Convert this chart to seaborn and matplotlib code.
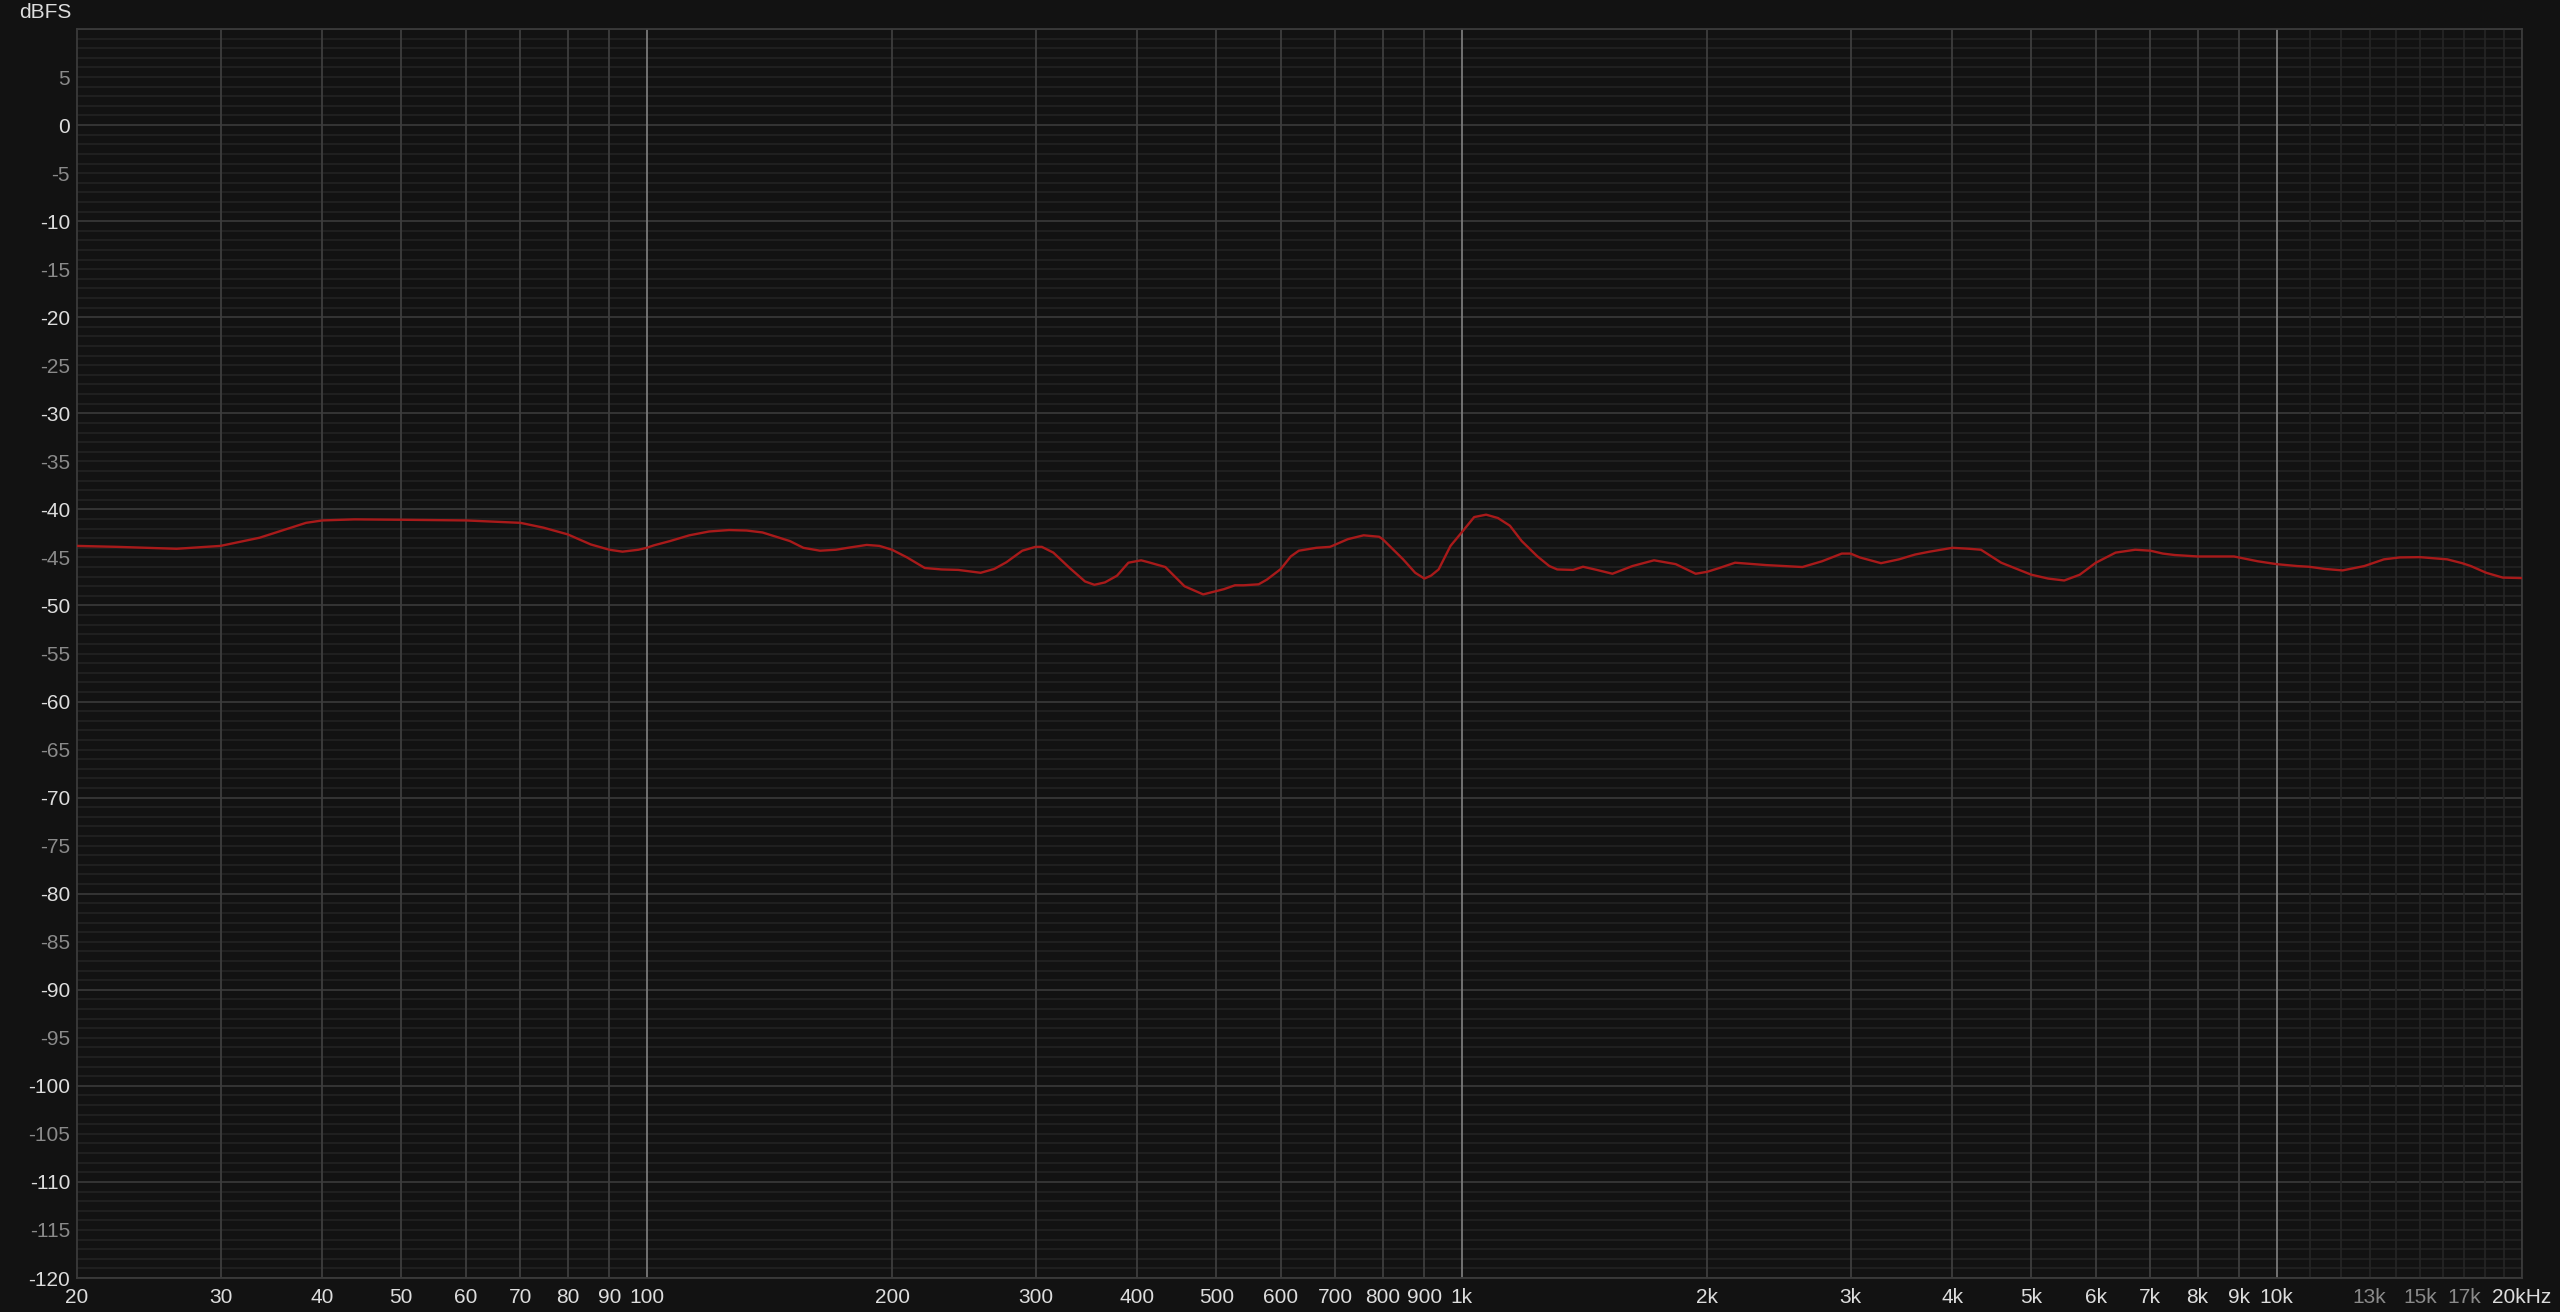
import numpy as np
import pandas as pd
import seaborn as sns
import matplotlib.pyplot as plt

# curve (frequency in Hz, level in dBFS)
freq = [20, 22.4, 26.5, 30, 33.5, 36.6, 38.2, 40, 43.8, 50, 60, 70, 74.7, 80, 85.4, 90,
        93.4, 97.7, 100, 102, 106.8, 112.8, 119.3, 126.2, 132.6, 138.7, 149.9, 155.7,
        163.2, 170.7, 176.5, 186.2, 193, 200, 208.7, 219.4, 230, 241.2, 256.9, 267,
        276.3, 289, 300, 305.4, 315.5, 330.4, 345, 354.3, 365, 377.7, 390, 404.3, 412.7,
        432.9, 457, 481.8, 500, 511, 527, 540, 563.5, 577, 600, 617, 631.3, 663, 689.5,
        725, 758, 792, 800, 847.6, 877, 900, 917, 937, 969, 1000, 1036, 1071.6, 1108,
        1146, 1185, 1239, 1281, 1310, 1370, 1409, 1465, 1531, 1620, 1722, 1831, 1937,
        2000, 2071, 2165, 2366, 2619, 2768, 2927, 3000, 3080, 3270, 3440, 3600, 3752,
        4000, 4197, 4337, 4592, 4800, 5000, 5243, 5487, 5733, 6000, 6344, 6706, 7000,
        7250, 7497, 8000, 8864, 9478, 10000, 10598, 10958, 11460, 12048, 12810, 13540,
        14160, 14980, 16190, 16890, 17310, 18080, 18940, 20000]
level = [-43.8, -43.9, -44.1, -43.8, -42.95, -41.9, -41.4, -41.15, -41.04, -41.08, -41.15,
         -41.4, -41.9, -42.6, -43.65, -44.2, -44.4, -44.2, -44.0, -43.75, -43.3, -42.7,
         -42.3, -42.15, -42.2, -42.4, -43.3, -44.0, -44.3, -44.2, -44.0, -43.7, -43.8,
         -44.2, -45.0, -46.1, -46.25, -46.3, -46.6, -46.2, -45.5, -44.3, -43.9, -43.9,
         -44.5, -46.1, -47.5, -47.85, -47.6, -46.9, -45.55, -45.3, -45.5, -46.0, -48.0,
         -48.85, -48.5, -48.3, -47.9, -47.9, -47.8, -47.3, -46.2, -44.9, -44.3, -44.0,
         -43.9, -43.1, -42.7, -42.85, -43.1, -45.2, -46.6, -47.2, -46.9, -46.25, -43.8,
         -42.4, -40.8, -40.55, -40.9, -41.7, -43.3, -44.9, -45.9, -46.25, -46.3, -45.97,
         -46.3, -46.7, -45.9, -45.3, -45.7, -46.7, -46.5, -46.1, -45.55, -45.8, -46.0,
         -45.4, -44.6, -44.6, -45.0, -45.6, -45.2, -44.7, -44.4, -44.0, -44.1, -44.2,
         -45.55, -46.2, -46.8, -47.2, -47.4, -46.8, -45.55, -44.5, -44.2, -44.3, -44.6,
         -44.75, -44.9, -44.9, -45.4, -45.7, -45.9, -45.97, -46.2, -46.35, -45.9, -45.2,
         -45.0, -44.97, -45.2, -45.6, -45.9, -46.6, -47.1, -47.15]

x_ticks = [20, 30, 40, 50, 60, 70, 80, 90, 100, 200, 300, 400, 500, 600, 700, 800, 900,
           1000, 2000, 3000, 4000, 5000, 6000, 7000, 8000, 9000, 10000, 13000, 15000,
           17000, 20000]
x_labels = ["20", "30", "40", "50", "60", "70", "80", "90", "100", "200", "300", "400",
            "500", "600", "700", "800", "900", "1k", "2k", "3k", "4k", "5k", "6k", "7k",
            "8k", "9k", "10k", "13k", "15k", "17k", "20kHz"]
y_ticks = list(range(5, -125, -5))

df = pd.DataFrame({"freq": freq, "level": level})

sns.set_style("dark")
plt.rcParams["font.family"] = ["Liberation Sans", "DejaVu Sans"]

bg = "#121212"
fig = plt.figure(figsize=(25.6, 13.12), dpi=100, facecolor=bg)
ax = fig.add_axes([77 / 2560, 1 - 1278 / 1312, (2522 - 77) / 2560, (1278 - 29) / 1312])
ax.set_facecolor(bg)

ax.set_xscale("log")
ax.set_xlim(20, 20000)
ax.set_ylim(-120, 10)

# grid: 1 dB minor rows, brighter every 10 dB; columns brighter at decades
for d in range(-120, 11):
    c = "#3a3a3a" if d % 10 == 0 else "#222222"
    ax.axhline(d, color=c, lw=1.2, zorder=0)
for f in range(11000, 20000, 1000):
    ax.axvline(f, color="#262626", lw=1.2, zorder=0)
for f in x_ticks:
    if f in (100, 1000, 10000):
        c = "#7a7a7a"
    elif f in (13000, 15000, 17000, 20):
        continue
    else:
        c = "#3e3e3e"
    ax.axvline(f, color=c, lw=1.3, zorder=0.5)

sns.lineplot(data=df, x="freq", y="level", ax=ax, color="#a81a1a", lw=1.7, zorder=3)

ax.set_xticks(x_ticks)
ax.set_xticklabels(x_labels)
ax.xaxis.set_minor_locator(plt.NullLocator())
ax.set_yticks(y_ticks)
ax.set_yticklabels([str(v) for v in y_ticks])
ax.tick_params(axis="both", length=0, labelsize=15)
ax.tick_params(axis="x", pad=7)
ax.tick_params(axis="y", pad=5)
for t, v in zip(ax.get_yticklabels(), y_ticks):
    t.set_color("#dddddd" if v % 10 == 0 else "#8a8a8a")
for t, lab in zip(ax.get_xticklabels(), x_labels):
    t.set_color("#8a8a8a" if lab in ("13k", "15k", "17k") else "#dddddd")
ax.set_xlabel("")
ax.set_ylabel("")

for s in ax.spines.values():
    s.set_color("#3a3a3a")
    s.set_linewidth(1.3)

fig.text(72 / 2560, 1 - 12 / 1312, "dBFS", color="#dddddd", fontsize=15,
         ha="right", va="center")

fig.savefig("out.png", dpi=100, facecolor=bg)
